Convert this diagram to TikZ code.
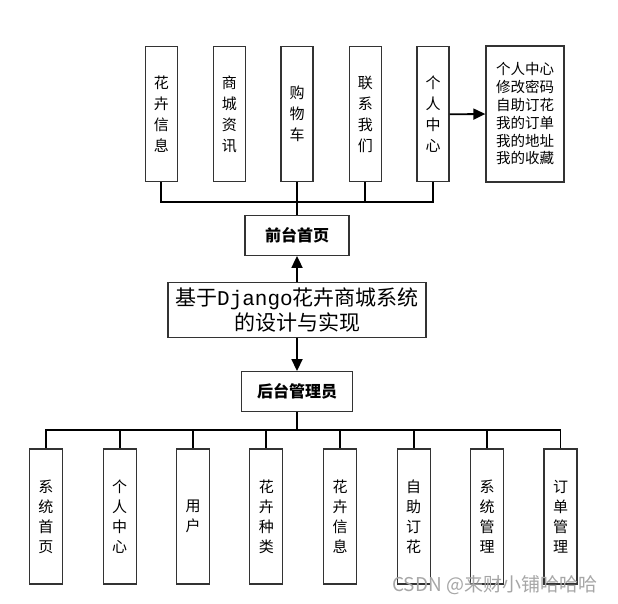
\documentclass[tikz,border=0pt]{standalone}
\usepackage{fontspec}
\setmainfont{Noto Sans CJK SC}
\newfontfamily\djmono{Liberation Mono}
\usetikzlibrary{arrows.meta}
\tikzset{
  vbox/.style={draw=black!80, line width=1.3pt, minimum width=32pt, minimum height=135pt,
    inner sep=0pt, align=center, font=\fontsize{15}{21}\selectfont},
  bvbox/.style={vbox, minimum width=33pt, font=\fontsize{15}{20}\selectfont},
  listbox/.style={draw=black!80, line width=1.3pt, minimum width=78pt, minimum height=136pt,
    inner sep=0pt, align=center, font=\fontsize{14.5}{17.8}\selectfont},
  hbox/.style={draw=black!80, line width=1.3pt, inner sep=0pt, align=center,
    font=\fontsize{16}{18}\bfseries\selectfont},
  titlebox/.style={draw=black!80, line width=1.3pt, minimum width=258pt, minimum height=55pt,
    inner sep=0pt, align=center, font=\fontsize{21}{25}\selectfont},
  conn/.style={draw=black, line width=1.8pt},
  arr/.style={conn, -{Triangle[length=12pt,width=11pt]}},
  wmark/.style={text=black!35, font=\fontsize{19}{20}\selectfont, inner sep=0pt}
}
\begin{document}
\begin{tikzpicture}[x=1pt,y=-1pt]
\useasboundingbox (0,0) rectangle (618,604);
% top row
\node[vbox] (t1) at (161.3,114.3) {花\\卉\\信\\息};
\node[vbox] (t2) at (229.3,114.3) {商\\城\\资\\讯};
\node[vbox] (t3) at (297,114.3) {购\\物\\车};
\node[vbox] (t4) at (365.3,114.3) {联\\系\\我\\们};
\node[vbox] (t5) at (433,114.3) {个\\人\\中\\心};
\node[listbox] (t6) at (525,114) {个人中心\\修改密码\\自助订花\\我的订单\\我的地址\\我的收藏};
% middle
\node[hbox, minimum width=104pt, minimum height=39.5pt] (front) at (297,235.5) {前台首页};
\node[titlebox] (main) at (297,310) {基于{\djmono Django}花卉商城系统\\的设计与实现};
\node[hbox, minimum width=111pt, minimum height=40pt] (admin) at (297,391.7) {后台管理员};
% bottom row
\node[bvbox] (b1) at (45.8,516.5) {系\\统\\首\\页};
\node[bvbox] (b2) at (119.7,516.5) {个\\人\\中\\心};
\node[bvbox] (b3) at (193,516.5) {用\\户};
\node[bvbox] (b4) at (266.3,516.5) {花\\卉\\种\\类};
\node[bvbox] (b5) at (340,516.5) {花\\卉\\信\\息};
\node[bvbox] (b6) at (413.7,516.5) {自\\助\\订\\花};
\node[bvbox] (b7) at (487,516.5) {系\\统\\管\\理};
\node[bvbox] (b8) at (560.5,516.5) {订\\单\\管\\理};
% top connectors
\coordinate (tb) at (297,201.7);
\draw[conn] (t1.south) |- (tb);
\draw[conn] (t4.south) |- (tb);
\draw[conn] (t5.south) |- (tb);
\draw[conn] (t3.south) -- (front.north);
\draw[arr] (t5.east) -- (t6.west);
% arrows
\draw[arr] (main.north) -- (front.south);
\draw[arr] (main.south) -- (admin.north);
% bottom connectors
\coordinate (bb) at (297,430);
\draw[conn] (admin.south) -- (bb);
\foreach \i in {1,...,8} { \draw[conn] (bb) -| (b\i.north); }
% watermark
\node[wmark, anchor=west] (wm) at (392,585) {CSDN @来财小铺哈哈哈};
\end{tikzpicture}
\end{document}
